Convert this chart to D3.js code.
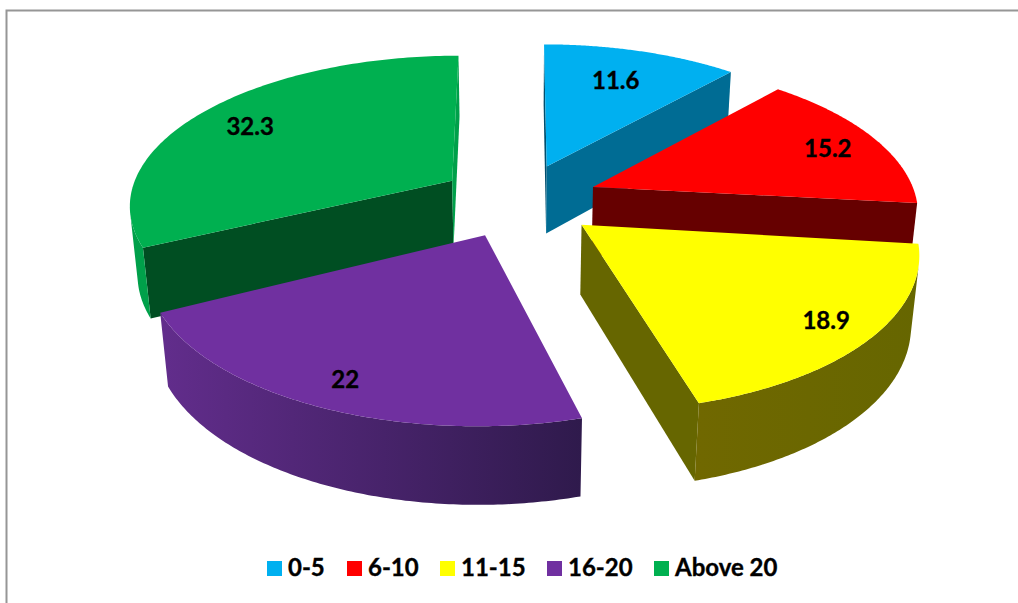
<!DOCTYPE html>
<html><head><meta charset="utf-8">
<script src="https://cdn.jsdelivr.net/npm/d3@7"></script>
<style>html,body{margin:0;padding:0;background:#fff}svg{display:block}text{font-family:Lato,sans-serif;font-weight:700;fill:#000;stroke:#000;stroke-width:.35px}</style>
</head><body><svg id="c" width="1018" height="603"></svg>
<script>
const categories = ["0-5","6-10","11-15","16-20","Above 20"];
const values = [11.6,15.2,18.9,22,32.3];
const valueLabels = ["11.6","15.2","18.9","22","32.3"];
const topColors = ["#00B0F0","#FF0000","#FFFF00","#7030A0","#00B050"];
const startFaceColors = ["#004F6E","#660000","#666600","#2D1340","#004E22"];
const endFaceColors = ["#006C94","#660000","#666600","#2D1340","#00A04A"];
const rimFromColors = ["#006C94","#660000","#666600","#2F1A4C","#00A04A"];
const rimToColors = ["#006C94","#660000","#706800","#622D8C","#00A04A"];
const labelReach = [0.70,0.83,0.86,0.86,0.81];
const labelShift = [-2,4,-1,0,4];
const drawOrder = [0,1,4,2,3];

const cam = {cx:519, cy:200, A:321, B:148.7, D:70, k:0.151, m:0.02, explode:0.26, inset:0.01};
function project(u,v,h){
  const w = 1 - cam.k*v + cam.m*h;
  return [cam.cx + cam.A*u/w, cam.cy + (cam.B*v + cam.D*h)/w];
}
const svg = d3.select("#c");
const defs = svg.append("defs");
svg.append("path").attr("d","M1018,10.5H6.5V603").attr("fill","none").attr("stroke","#969696").attr("stroke-width",2);

const arcs = d3.pie().sort(null).value(d=>d)(values);
const line = d3.line();
const g = svg.append("g");
function corners(p,q){return [project(p[0],p[1],0),project(q[0],q[1],0),project(q[0],q[1],1),project(p[0],p[1],1)];}
function face(p,q,color){
  const pts=corners(p,q);
  if(d3.polygonArea(pts)<=0) return;
  g.append("path").attr("d",line(pts)+"Z").attr("fill",color);
}
const geo = arcs.map(a=>{
  const mid=(a.startAngle+a.endAngle)/2;
  const centre=[cam.explode*Math.sin(mid),-cam.explode*Math.cos(mid)];
  const apex=[(cam.explode-cam.inset)*Math.sin(mid),-(cam.explode-cam.inset)*Math.cos(mid)];
  const angles=d3.range(0,121).map(i=>a.startAngle+(a.endAngle-a.startAngle)*i/120);
  const rim=angles.map(t=>[centre[0]+Math.sin(t),centre[1]-Math.cos(t)]);
  return {mid,centre,apex,rim};
});
drawOrder.forEach(i=>{
  const s=geo[i];
  face(s.apex,s.rim[0],startFaceColors[i]);
  face(s.rim[120],s.apex,endFaceColors[i]);
  const vis=d3.range(120).filter(j=>d3.polygonArea(corners(s.rim[j],s.rim[j+1]))>0);
  if(vis.length){
    const idx=[...vis,vis[vis.length-1]+1];
    const tops=idx.map(j=>project(s.rim[j][0],s.rim[j][1],0));
    const bottoms=idx.map(j=>project(s.rim[j][0],s.rim[j][1],1)).reverse();
    const gid="rim"+i;
    const grad=defs.append("linearGradient").attr("id",gid).attr("gradientUnits","userSpaceOnUse")
      .attr("x1",tops[0][0]).attr("y1",0).attr("x2",tops[tops.length-1][0]).attr("y2",0);
    grad.append("stop").attr("offset",0).attr("stop-color",rimFromColors[i]);
    grad.append("stop").attr("offset",1).attr("stop-color",rimToColors[i]);
    g.append("path").attr("d",line([...tops,...bottoms])+"Z").attr("fill",`url(#${gid})`);
  }
  const top=[s.apex,...s.rim].map(p=>project(p[0],p[1],0));
  g.append("path").attr("d",line(top)+"Z").attr("fill",topColors[i]);
});
geo.forEach((s,i)=>{
  const r=labelReach[i];
  const p=project(s.centre[0]+r*Math.sin(s.mid),s.centre[1]-r*Math.cos(s.mid),0);
  svg.append("text").attr("x",p[0]).attr("y",p[1]+8+labelShift[i]).attr("text-anchor","middle").attr("font-size",24).text(valueLabels[i]);
});
const swatchX=[267,347,440,547,654];
categories.forEach((c,i)=>{
  svg.append("rect").attr("x",swatchX[i]).attr("y",561).attr("width",15).attr("height",15).attr("fill",topColors[i]);
  svg.append("text").attr("x",swatchX[i]+21).attr("y",576).attr("font-size",24).text(c);
});
</script></body></html>
